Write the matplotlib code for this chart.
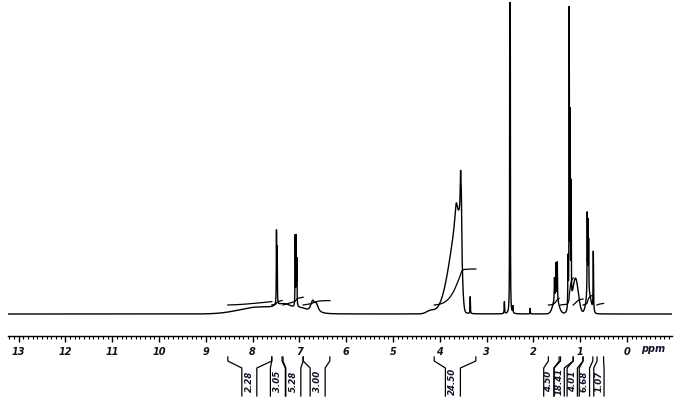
import numpy as np
import matplotlib
matplotlib.use("Agg")
import matplotlib.pyplot as plt
from matplotlib.ticker import MultipleLocator

# ---------------- data ----------------
# peaks: centre (ppm), height (arb. units), half-width left / right (ppm),
# shape: "L" Lorentzian (sharp lines) or "G" Gaussian (broad humps)
peak_ppm = [7.85, 7.30, 6.95, 6.72, 6.64,
            7.490, 7.475, 7.090, 7.070, 7.055,
            4.20, 3.57, 3.65, 3.555, 3.540, 3.35,
            2.62, 2.505, 2.495, 2.44, 2.07,
            1.52, 1.55, 1.52, 1.49,
            1.26, 1.235, 1.215, 1.195, 1.10,
            0.82, 0.850, 0.835, 0.820, 0.72]
peak_height = [7, 7, 4, 11, 8,
               72, 55, 70, 68, 45,
               3, 95, 22, 45, 38, 17,
               12, 330, 330, 7, 6,
               15, 22, 35, 38,
               50, 295, 185, 115, 35,
               20, 80, 68, 50, 60]
peak_wl = [0.50, 0.20, 0.12, 0.05, 0.05,
           0.004, 0.004, 0.004, 0.004, 0.004,
           0.10, 0.24, 0.035, 0.010, 0.008, 0.004,
           0.005, 0.003, 0.003, 0.005, 0.004,
           0.07, 0.005, 0.005, 0.005,
           0.005, 0.004, 0.004, 0.004, 0.07,
           0.06, 0.004, 0.004, 0.004, 0.005]
peak_wr = [0.50, 0.20, 0.12, 0.05, 0.05,
           0.004, 0.004, 0.004, 0.004, 0.004,
           0.10, 0.045, 0.035, 0.010, 0.008, 0.004,
           0.005, 0.003, 0.003, 0.005, 0.004,
           0.07, 0.005, 0.005, 0.005,
           0.005, 0.004, 0.004, 0.004, 0.07,
           0.06, 0.004, 0.004, 0.004, 0.005]
peak_shape = ["G", "G", "G", "L", "L",
              "L", "L", "L", "L", "L",
              "G", "G", "L", "L", "L", "L",
              "L", "L", "L", "L", "L",
              "G", "L", "L", "L",
              "L", "L", "L", "L", "G",
              "G", "L", "L", "L", "L"]

# integral regions (start ppm, end ppm) and values
int_start = [8.53, 7.59, 7.35, 6.92, 4.12, 1.68, 1.42, 1.15, 0.94, 0.64]
int_end   = [7.59, 7.37, 6.92, 6.35, 3.23, 1.45, 1.15, 0.94, 0.73, 0.50]
int_value = [2.28, 3.05, 5.28, 3.00, 24.50, 4.50, 18.41, 4.01, 6.68, 1.07]
int_label = ["2.28", "3.05", "5.28", "3.00", "24.50",
             "4.50", "18.41", "4.01", "6.68", "1.07"]
# label centre positions (ppm)
int_label_ppm = [8.07, 7.46, 7.13, 6.61, 3.72, 1.67, 1.45, 1.17, 0.91, 0.60]

tick_values = list(range(0, 14))

# ---------------- layout ----------------
W, H = 680, 406
fig = plt.figure(figsize=(W / 100, H / 100), dpi=100)
ax_left, ax_right = 8, 672
ax_bot, ax_top = 337, 3
ax = fig.add_axes([ax_left / W, (H - ax_bot) / H,
                   (ax_right - ax_left) / W, (ax_bot - ax_top) / H])

px_per_ppm = 46.8
x0_pix = 627  # pixel of 0 ppm
ax.set_xlim((x0_pix - ax_left) / px_per_ppm, (x0_pix - ax_right) / px_per_ppm)
base_pix = 315
ax.set_ylim(base_pix - ax_bot, base_pix - ax_top)

# ---------------- spectrum ----------------
ppm = np.linspace(13.25, -0.98, 40000)
spec = np.zeros_like(ppm)
for c, h, wl, wr, shp in zip(peak_ppm, peak_height, peak_wl, peak_wr, peak_shape):
    w = np.where(ppm > c, wl, wr)
    d = (ppm - c) / w
    if shp == "G":
        spec += h * np.exp(-np.log(2) * d ** 2)
    else:
        spec += h / (1.0 + d ** 2)
ax.plot(ppm, spec, color="black", lw=1.0, solid_joinstyle="miter")

# ---------------- integral curves ----------------
k = 36.0 / 24.5
for s, e, v in zip(int_start, int_end, int_value):
    m = (ppm <= s) & (ppm >= e)
    cum = np.cumsum(spec[m])
    curve = 9 + v * k * cum / cum[-1]
    ax.plot(ppm[m], curve, color="black", lw=0.9)

# ---------------- axis styling ----------------
font = dict(family="DejaVu Sans", weight="bold", style="italic")
for sp in ["top", "left", "right"]:
    ax.spines[sp].set_visible(False)
ax.spines["bottom"].set_linewidth(1.0)
ax.set_yticks([])
ax.xaxis.set_minor_locator(MultipleLocator(0.1))
ax.set_xticks(tick_values)
ax.set_xticklabels([str(t) for t in tick_values], **font)
ax.tick_params(axis="x", which="major", direction="out", length=4.5,
               width=1.0, pad=2.5, labelsize=7, labelcolor="#10102a")
ax.tick_params(axis="x", which="minor", direction="out", length=2.2,
               width=0.8)
ax.text(-0.55, -34.5, "ppm", ha="center", va="center", fontsize=7,
        color="#10102a", clip_on=False, **font)

# ---------------- integral brackets and labels ----------------
y_top, y_mid, y_bend, y_bot = -43, -47, -54, -82
for i, (s, e, lab, c) in enumerate(zip(int_start, int_end, int_label, int_label_ppm)):
    hw = 0.16 if i < 5 else 0.11
    ax.plot([s, s, c + hw, c + hw], [y_top, y_mid, y_bend, y_bot],
            color="black", lw=0.9, clip_on=False)
    ax.plot([e, e, c - hw, c - hw], [y_top, y_mid, y_bend, y_bot],
            color="black", lw=0.9, clip_on=False)
    ax.text(c, -66, lab, rotation=90, ha="center", va="center",
            fontsize=6.2, clip_on=False, color="#10102a", **font)

fig.savefig("out.png", dpi=100)
